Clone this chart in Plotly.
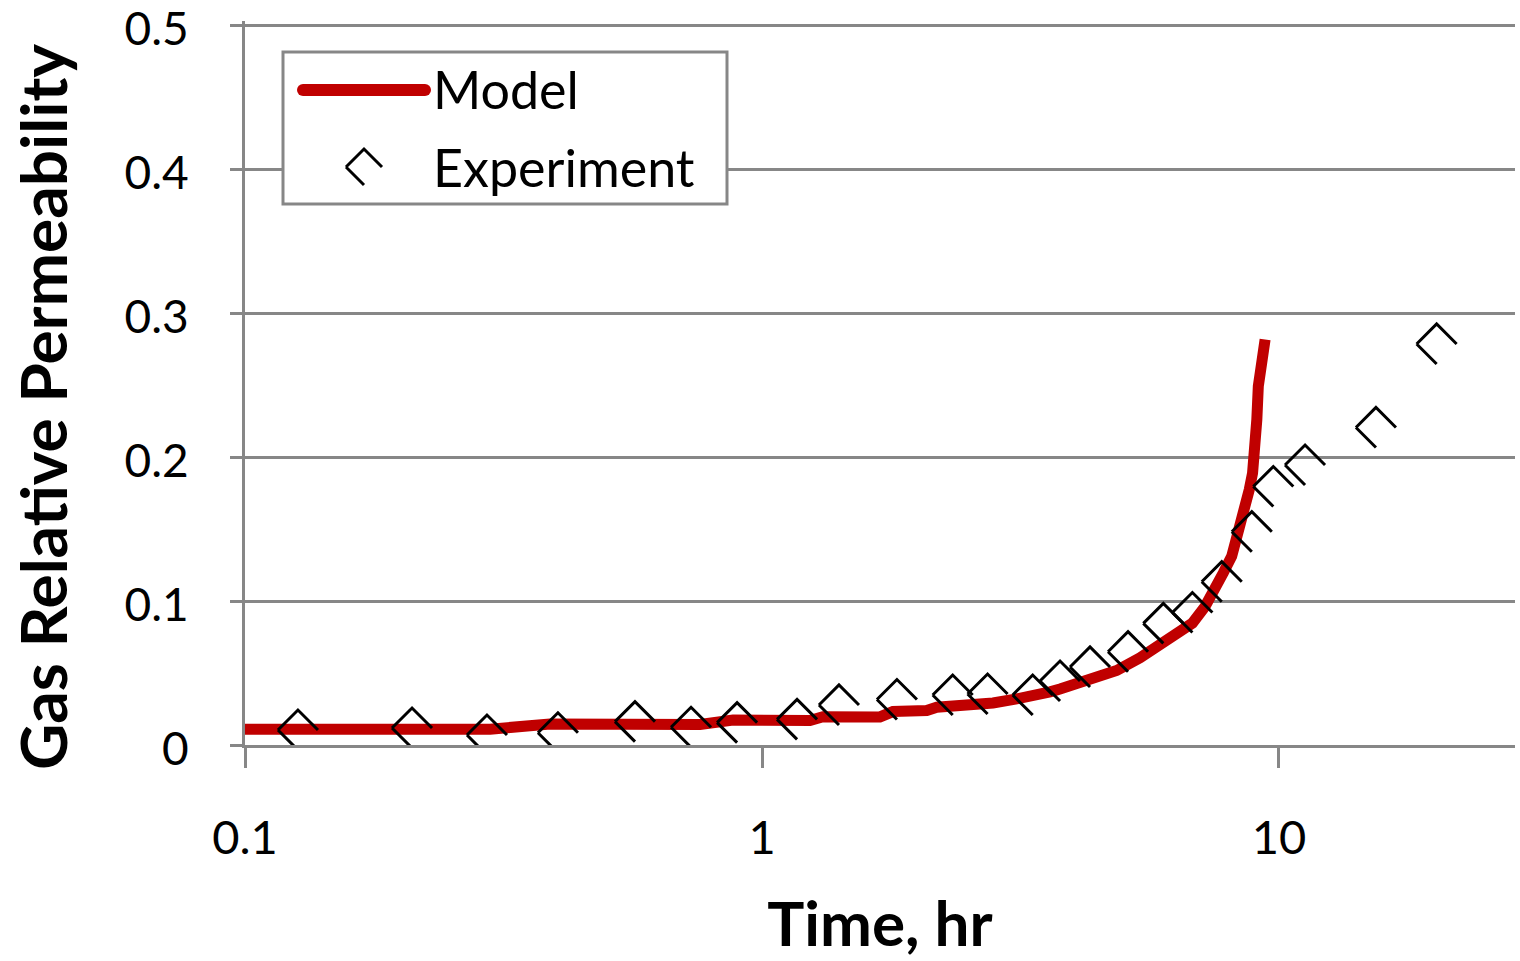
import plotly.graph_objects as go

# Model curve: time (hr) and gas relative permeability
model_time = [0.1, 0.298, 0.389, 0.759, 0.879, 1.238, 1.312, 1.691, 1.792, 2.083,
              2.178, 2.489, 2.798, 3.109, 3.449, 3.607, 3.771, 4.178, 4.507, 4.853,
              5.385, 6.065, 6.435, 6.80, 7.194, 7.52, 7.80, 8.10, 8.28, 8.47,
              8.66, 8.76, 8.89, 8.96, 9.06, 9.06, 9.12, 9.26, 9.40]
model_krg = [0.0109, 0.011, 0.0146, 0.0143, 0.0174, 0.017, 0.0197, 0.0195, 0.0232, 0.0239,
             0.0262, 0.0273, 0.0292, 0.032, 0.0346, 0.0369, 0.0389, 0.0436, 0.0466, 0.0517,
             0.0605, 0.073, 0.080, 0.0846, 0.0962, 0.1078, 0.1194, 0.131, 0.1426, 0.1542,
             0.1657, 0.1773, 0.1889, 0.2005, 0.2121, 0.226, 0.2492, 0.2608, 0.2816]

# Experimental measurements
exp_time = [0.1266, 0.2104, 0.2938, 0.403, 0.568, 0.729, 0.895, 1.169, 1.409, 1.824,
            2.338, 2.731, 3.339, 3.771, 4.31, 5.105, 5.974, 6.80, 7.75, 8.86,
            9.75, 11.23, 15.40, 20.18]
exp_krg = [0.0104, 0.0118, 0.0069, 0.0085, 0.0162, 0.0123, 0.0155, 0.0178, 0.0278, 0.0316,
           0.0347, 0.0354, 0.0347, 0.0444, 0.0542, 0.0648, 0.0845, 0.092, 0.1134, 0.1481,
           0.1795, 0.1944, 0.2205, 0.2785]

x_ticks = [0.1, 1, 10]
x_tick_text = ["0.1", "1", "10"]
y_ticks = [0, 0.1, 0.2, 0.3, 0.4, 0.5]
y_tick_text = ["0", "0.1", "0.2", "0.3", "0.4", "0.5"]

RED = "#C00000"
GRID = "#878787"
FONT = "Lato"

W, H = 1520, 961
ML, MR, MT, MB = 245, 5, 21, 216
PW, PH = W - ML - MR, H - MT - MB
Y_TOP = 0.5 * PH / 720  # puts 0.5 at 720 px above the x axis


def px_x(p):
    return (p - ML) / PW


def px_y(p):
    return (H - MB - p) / PH


# open diamond missing its lower-right edge
def glyph(s):
    return f"M {-s},0 L 0,{s} L {s},0 M {-s},0 L 0,{-s}"


fig = go.Figure()

fig.add_trace(go.Scatter(
    x=model_time, y=model_krg, mode="lines", name="Model",
    line=dict(color=RED, width=11), showlegend=False,
))
fig.add_trace(go.Scatter(
    x=exp_time, y=exp_krg, mode="markers", name="Experiment",
    marker=dict(size=30, color="rgba(0,0,0,0)"), showlegend=False,
))

shapes = []
for t, k in zip(exp_time, exp_krg):
    shapes.append(dict(
        type="path", xref="x", yref="y", xsizemode="pixel", ysizemode="pixel",
        xanchor=t, yanchor=k, path=glyph(20),
        line=dict(color="black", width=3), layer="above",
    ))

# legend box
shapes.append(dict(
    type="rect", xref="paper", yref="paper",
    x0=px_x(283), x1=px_x(727), y0=px_y(204), y1=px_y(52),
    fillcolor="white", line=dict(color=GRID, width=3), layer="above",
))
shapes.append(dict(
    type="line", xref="paper", yref="paper",
    x0=px_x(303), x1=px_x(425), y0=px_y(90), y1=px_y(90),
    line=dict(color=RED, width=12), layer="above",
))
for ex in (303, 425):
    shapes.append(dict(
        type="circle", xref="paper", yref="paper", xsizemode="pixel", ysizemode="pixel",
        xanchor=px_x(ex), yanchor=px_y(90), x0=-6, x1=6, y0=-6, y1=6,
        fillcolor=RED, line=dict(width=0), layer="above",
    ))
shapes.append(dict(
    type="path", xref="paper", yref="paper", xsizemode="pixel", ysizemode="pixel",
    xanchor=px_x(364), yanchor=px_y(167), path=glyph(18),
    line=dict(color="black", width=3), layer="above",
))

annotations = [
    dict(text="Model", xref="paper", yref="paper", x=px_x(431), y=px_y(89),
         xanchor="left", yanchor="middle", showarrow=False,
         font=dict(family=FONT, size=52, color="black")),
    dict(text="Experiment", xref="paper", yref="paper", x=px_x(431), y=px_y(167),
         xanchor="left", yanchor="middle", showarrow=False,
         font=dict(family=FONT, size=52, color="black")),
    # y-axis title
    dict(text="<b>Gas Relative Permeability</b>", xref="paper", yref="paper",
         x=px_x(42), y=px_y(407), xanchor="center", yanchor="middle",
         textangle=-90, showarrow=False,
         font=dict(family=FONT, size=64, color="black")),
]

fig.update_layout(
    width=W, height=H,
    margin=dict(l=ML, r=MR, t=MT, b=MB, autoexpand=False),
    paper_bgcolor="white", plot_bgcolor="white",
    font=dict(family=FONT, color="black"),
    shapes=shapes, annotations=annotations,
    showlegend=False,
)

fig.update_xaxes(
    type="log", range=[-1, 1.4565], automargin=False,
    tickvals=x_ticks, ticktext=x_tick_text,
    ticks="outside", ticklen=20, tickwidth=3, tickcolor=GRID,
    showline=True, linecolor=GRID, linewidth=3,
    showgrid=False, zeroline=False,
    tickfont=dict(family=FONT, size=47, color="black"),
    ticklabelstandoff=30, ticklabeloverflow="allow",
    title=dict(text="<b>Time, hr</b>", font=dict(family=FONT, size=62, color="black"),
               standoff=40),
)
fig.update_yaxes(
    range=[0, Y_TOP], automargin=False,
    tickvals=y_ticks, ticktext=y_tick_text,
    ticks="outside", ticklen=12, tickwidth=3, tickcolor=GRID,
    showline=True, linecolor=GRID, linewidth=3,
    showgrid=True, gridcolor=GRID, gridwidth=2.5,
    zeroline=False,
    tickfont=dict(family=FONT, size=46, color="black"),
    ticklabelstandoff=32, ticklabelshift=4, ticklabeloverflow="allow",
)

fig.write_html("out.html")
